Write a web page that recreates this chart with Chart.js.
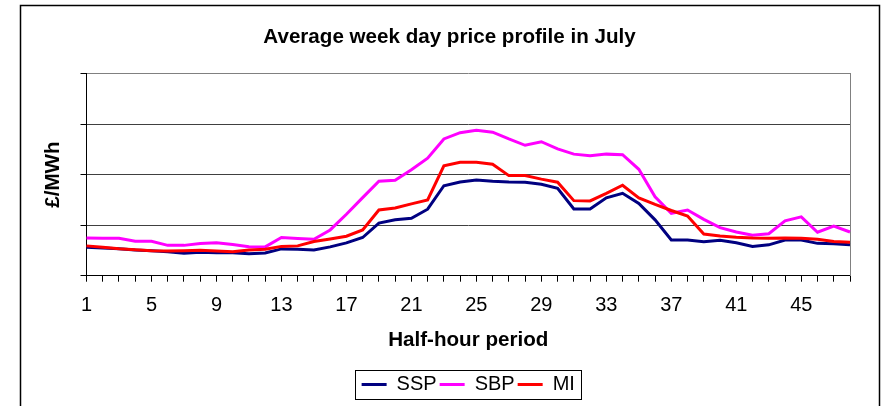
<!DOCTYPE html>
<html>
<head>
<meta charset="utf-8">
<title>Average week day price profile in July</title>
<script src="https://cdn.jsdelivr.net/npm/chart.js@4/dist/chart.umd.min.js"></script>
<style>
    html, body { margin: 0; padding: 0; background: #fff; }
    #wrap { width: 885px; height: 406px; }
</style>
</head>
<body>
<div id="wrap"><canvas id="chart" width="885" height="406"></canvas></div>
<script>
// Half-hour periods (x axis categories)
const periods = ['1', '2', '3', '4', '5', '6', '7', '8', '9', '10', '11', '12',
    '13', '14', '15', '16', '17', '18', '19', '20', '21', '22', '23', '24',
    '25', '26', '27', '28', '29', '30', '31', '32', '33', '34', '35', '36',
    '37', '38', '39', '40', '41', '42', '43', '44', '45', '46', '47', '48'];

// Prices (£/MWh)
const ssp = [11.3, 11.0, 10.7, 10.2, 9.9, 9.5, 8.9, 9.3, 9.1, 9.1, 8.7, 9.0,
    10.6, 10.5, 10.2, 11.4, 13.0, 15.1, 20.8, 22.1, 22.7, 26.3, 35.6, 37.1,
    37.9, 37.4, 37.1, 37.0, 36.2, 34.6, 26.4, 26.4, 30.8, 32.6, 28.6, 22.1,
    14.1, 14.1, 13.4, 14.0, 13.0, 11.6, 12.2, 14.1, 14.1, 12.8, 12.6, 12.2];

const sbp = [14.9, 14.8, 14.8, 13.6, 13.6, 12.0, 12.0, 12.7, 13.0, 12.3, 11.5, 11.4,
    15.1, 14.7, 14.4, 18.1, 24.3, 30.9, 37.4, 37.8, 41.9, 46.5, 54.1, 56.6,
    57.5, 56.8, 54.1, 51.6, 53.0, 50.2, 48.1, 47.5, 48.1, 47.9, 42.1, 31.2,
    24.7, 26.0, 22.3, 19.0, 17.3, 16.0, 16.6, 21.7, 23.3, 17.2, 19.6, 17.3];

const mi = [11.8, 11.3, 10.7, 10.3, 9.9, 9.8, 9.9, 10.1, 9.8, 9.5, 10.2, 10.5,
    11.6, 11.8, 13.5, 14.5, 15.6, 18.1, 26.0, 26.8, 28.4, 30.0, 43.5, 44.9,
    44.9, 44.1, 39.6, 39.6, 38.2, 37.0, 29.7, 29.6, 32.6, 35.8, 30.8, 28.2,
    25.8, 23.6, 16.5, 15.7, 15.2, 14.9, 14.8, 14.9, 14.8, 14.4, 13.5, 13.2];

const yMax = 80;
const yStep = 20;

const FONT = "'Liberation Sans', Arial, sans-serif";

// Outer frame of the chart object
const outerFrame = {
    id: 'outerFrame',
    beforeDraw(chart) {
        const ctx = chart.ctx;
        ctx.save();
        ctx.strokeStyle = '#000';
        ctx.lineWidth = 1.5;
        ctx.strokeRect(20.5, 5.5, 859, 430);
        ctx.restore();
    }
};

// Box around the legend entries
const legendFrame = {
    id: 'legendFrame',
    afterDraw(chart) {
        const boxes = chart.legend.legendHitBoxes;
        if (!boxes || !boxes.length) return;
        const left = Math.min(...boxes.map(b => b.left)) - 7;
        const right = Math.max(...boxes.map(b => b.left + b.width)) + 6;
        const mid = boxes[0].top + boxes[0].height / 2;
        const ctx = chart.ctx;
        ctx.save();
        ctx.strokeStyle = '#000';
        ctx.lineWidth = 1;
        ctx.strokeRect(Math.round(left) + 0.5, Math.round(mid - 15) + 0.5,
            Math.round(right - left), 29);
        ctx.restore();
    }
};

function makeDataset(label, data, color, order) {
    return {
        label: label,
        data: data,
        borderColor: color,
        backgroundColor: color,
        borderWidth: 3,
        pointRadius: 0,
        tension: 0,
        fill: false,
        order: order
    };
}

function drawChart(canvasId) {
    const ctx = document.getElementById(canvasId).getContext('2d');

    new Chart(ctx, {
        type: 'line',
        data: {
            labels: periods,
            datasets: [
                makeDataset('SSP', ssp, '#000080', 2),
                makeDataset('SBP', sbp, '#FF00FF', 1),
                makeDataset('MI', mi, '#FF0000', 0)
            ]
        },
        options: {
            responsive: false,
            animation: false,
            layout: { padding: { left: 20, right: 6, top: 0, bottom: 1.5 } },
            plugins: {
                title: {
                    display: true,
                    text: 'Average week day price profile in July',
                    color: '#000',
                    font: { family: FONT, size: 20.6, weight: 'bold', lineHeight: 1.165 },
                    padding: { top: 25.5, bottom: 24 }
                },
                legend: {
                    position: 'bottom',
                    fullSize: false,
                    labels: {
                        color: '#000',
                        font: { family: FONT, size: 20 },
                        boxWidth: 25,
                        boxHeight: 3,
                        padding: 3,
                        sort: (a, b) => a.datasetIndex - b.datasetIndex,
                        generateLabels: chart => Chart.defaults.plugins.legend.labels
                            .generateLabels(chart)
                            .map(item => Object.assign(item, { lineWidth: 0 }))
                    }
                },
                tooltip: { enabled: false }
            },
            scales: {
                x: {
                    offset: false,
                    grid: {
                        drawOnChartArea: false,
                        drawTicks: true,
                        tickLength: 6,
                        tickColor: '#000'
                    },
                    border: { color: '#000', width: 1 },
                    ticks: {
                        autoSkip: false,
                        maxRotation: 0,
                        padding: 12,
                        color: '#000',
                        font: { family: FONT, size: 20 },
                        callback: (value, index) => index % 4 === 0 ? periods[index] : ''
                    },
                    title: {
                        display: true,
                        text: 'Half-hour period',
                        color: '#000',
                        font: { family: FONT, size: 20.6, weight: 'bold', lineHeight: 1.165 },
                        padding: { top: 0, bottom: 18.8 }
                    },
                    afterFit: scale => { scale.height = 95.8; }
                },
                y: {
                    min: 0,
                    max: yMax,
                    grid: {
                        color: c => (c.tick && c.tick.value === yMax) ? '#808080' : '#404040',
                        drawTicks: true,
                        tickLength: 6,
                        tickColor: '#000'
                    },
                    border: { color: '#000', width: 1 },
                    ticks: { display: false, stepSize: yStep },
                    title: {
                        display: true,
                        text: '£/MWh',
                        color: '#000',
                        font: { family: FONT, size: 20.6, weight: 'bold', lineHeight: 1.165 },
                        padding: { top: 21, bottom: 0 }
                    },
                    afterFit: scale => { scale.width = 66.5; }
                },
                y2: {
                    position: 'right',
                    min: 0,
                    max: yMax,
                    grid: { drawOnChartArea: false, drawTicks: false },
                    border: { color: '#808080', width: 1 },
                    ticks: { display: false },
                    afterFit: scale => { scale.width = 29; }
                }
            }
        },
        plugins: [outerFrame, legendFrame]
    });
}

document.addEventListener('DOMContentLoaded', () => {
    drawChart('chart');
});
</script>
</body>
</html>
